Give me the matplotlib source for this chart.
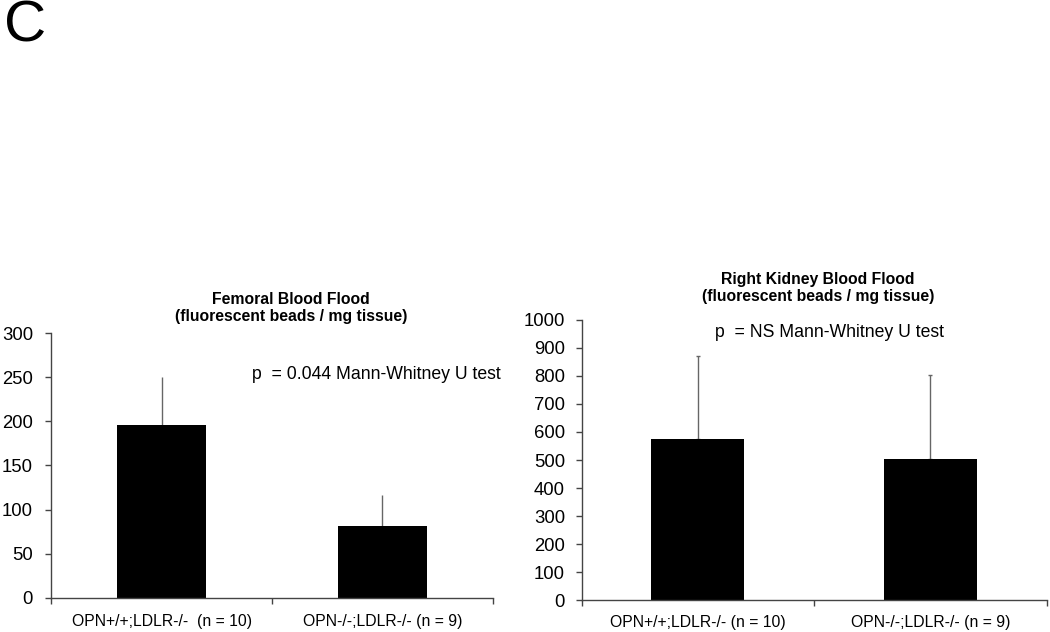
import matplotlib.pyplot as plt
import numpy as np

plt.rcParams["font.family"] = ["Liberation Sans", "DejaVu Sans"]

groups_left = ["OPN+/+;LDLR-/-  (n = 10)", "OPN-/-;LDLR-/- (n = 9)"]
groups_right = ["OPN+/+;LDLR-/- (n = 10)", "OPN-/-;LDLR-/- (n = 9)"]

femoral_mean = [196, 81]
femoral_err = [54, 35]

kidney_mean = [576, 505]
kidney_err = [295, 297]

fig = plt.figure(figsize=(10.5, 6.32), dpi=100)
fig.text(0.004, 0.958, "C", fontsize=42, va="center", ha="left")


def draw_panel(ax, means, errs, labels, ymax, step, title, title_x, title_y, ptext, px, py,
               capsize, ypad, xpad):
    x = np.arange(len(means))
    ax.bar(x, means, width=0.4, color="black", zorder=2)
    ax.errorbar(x, means, yerr=[np.zeros(len(errs)), errs], fmt="none",
                ecolor="#666666", elinewidth=1.0, capsize=capsize, capthick=1.0, zorder=1)
    ax.set_xlim(-0.5, len(means) - 0.5)
    ax.set_ylim(0, ymax)
    ax.set_yticks(np.arange(0, ymax + 1, step))
    ax.set_xticks(np.arange(-0.5, len(means)), labels=[""] * (len(means) + 1))
    ax.set_xticks(x, labels=labels, minor=True)
    ax.tick_params(axis="x", which="major", direction="out", length=4, width=1, color="#444444")
    ax.tick_params(axis="x", which="minor", length=0, labelsize=11.3, pad=xpad)
    ax.tick_params(axis="y", direction="out", length=4, width=1, color="#444444",
                   labelsize=13.3, pad=ypad)
    for s in ("top", "right"):
        ax.spines[s].set_visible(False)
    for s in ("left", "bottom"):
        ax.spines[s].set_color("#444444")
        ax.spines[s].set_linewidth(1.0)
    ax.text(title_x, title_y, title, transform=ax.transAxes, ha="center", va="bottom",
            fontsize=11.3, fontweight="bold", linespacing=1.15)
    ax.text(px, py, ptext, transform=ax.transAxes, ha="left", va="center", fontsize=12.7)


ax1 = fig.add_axes([0.0486, 0.0543, 0.4209, 0.4183])
draw_panel(ax1, femoral_mean, femoral_err, groups_left, 300, 50,
           "Femoral Blood Flood\n(fluorescent beads / mg tissue)", 0.543, 1.035,
           "p  = 0.044 Mann-Whitney U test", 0.455, 0.843, 0, 9, 12)

ax2 = fig.add_axes([0.554, 0.0506, 0.4429, 0.4431])
draw_panel(ax2, kidney_mean, kidney_err, groups_right, 1000, 100,
           "Right Kidney Blood Flood\n(fluorescent beads / mg tissue)", 0.508, 1.058,
           "p  = NS Mann-Whitney U test", 0.286, 0.957, 1.5, 8, 11)

fig.savefig("out.png", dpi=100)
